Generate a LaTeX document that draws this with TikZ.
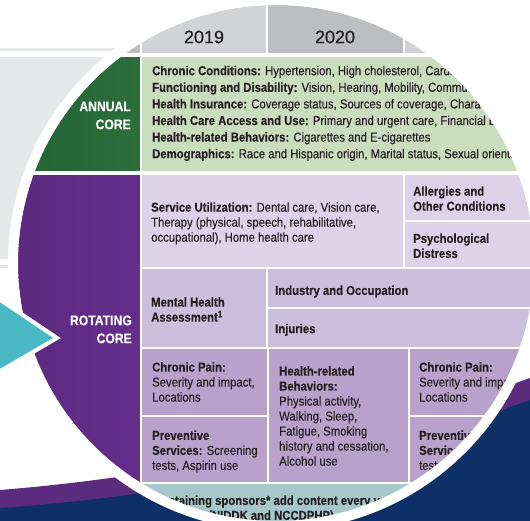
\documentclass[tikz,border=0pt]{standalone}
\usepackage{fontspec}
\setmainfont{Liberation Sans}[FakeStretch=0.87, FakeBold=0.15]
\newfontfamily\yearfont{Liberation Sans}[FakeBold=0.5]
\usepackage{xcolor}
\usepackage{tikz}

\definecolor{txt}{HTML}{231F20}
\definecolor{bggrey}{HTML}{E6E7E8}
\definecolor{hdlight}{HTML}{D1D3D4}
\definecolor{hddark}{HTML}{BCBEC0}
\definecolor{coregreen}{HTML}{2B6E3C}
\definecolor{coregreenD}{HTML}{235F31}
\definecolor{annualbg}{HTML}{CADDBE}
\definecolor{corepurple}{HTML}{662D8C}
\definecolor{corepurpleD}{HTML}{58297C}
\definecolor{rowone}{HTML}{DDD3E8}
\definecolor{rowtwo}{HTML}{CEBEDD}
\definecolor{rowthree}{HTML}{B8A1CB}
\definecolor{sponsorbg}{HTML}{A6C8CB}
\definecolor{arrowteal}{HTML}{4BB8C6}
\definecolor{swooshpurple}{HTML}{5B2C7E}
\definecolor{swooshnavy}{HTML}{0E3066}

\tikzset{
  cell/.style={draw=white, line width=2pt},
  body/.style={anchor=north west, inner sep=0pt, align=left, text=txt,
    font=\fontsize{13}{15}\selectfont},
  bodybold/.style={body, font=\fontsize{13}{15}\selectfont\bfseries},
  corelabel/.style={anchor=north east, inner sep=0pt, align=right, text=white,
    font=\fontsize{14}{18}\selectfont\bfseries},
  year/.style={inner sep=0pt, text=txt, font=\yearfont\fontsize{18}{18}\selectfont},
}
\newcommand{\fst}{\rule{0pt}{11pt}}

\begin{document}
\begin{tikzpicture}[x=1pt, y=-1pt]
  \useasboundingbox (0,0) rectangle (530,521);

  % page behind the lens
  \fill[bggrey] (0,48) rectangle (300,51);
  \fill[bggrey] (0,57) rectangle (300,259);
  \fill[bggrey] (0,265) rectangle (300,268);
  \fill[swooshpurple] (0,490) .. controls (200,474) and (400,425) .. (530,378) -- (530,521) -- (0,521) -- cycle;
  \fill[swooshnavy] (0,508) .. controls (200,494) and (400,448) .. (530,400) -- (530,521) -- (0,521) -- cycle;

  % the lens
  \coordinate (lens) at (276,263);
  \begin{scope}
    \clip (lens) circle (258);
    \fill[white] (lens) circle (258);

    % year header
    \draw[cell, fill=hddark] (-20,-20) rectangle (141,54);
    \draw[cell, fill=hdlight] (141,-20) rectangle (267,54);
    \draw[cell, fill=hddark] (267,-20) rectangle (404,54);
    \draw[cell, fill=hdlight] (404,-20) rectangle (560,54);
    \node[year] (y2019) at (204,37) {2019};
    \node[year] (y2020) at (335,37) {2020};

    % annual core
    \draw[cell, left color=coregreenD, right color=coregreen] (-20,56) rectangle (141,172.5);
    \draw[cell, fill=annualbg] (141,56) rectangle (560,172.5);
    \node[corelabel] (annual) at (131,100) {\fst ANNUAL\\CORE};
    \node[body, font=\fontsize{13}{16.6}\selectfont] (annualtext) at (152,64) {\fst\textbf{Chronic Conditions:} Hypertension, High cholesterol, Cardiovascular\\
      \textbf{Functioning and Disability:} Vision, Hearing, Mobility, Communication\\
      \textbf{Health Insurance:} Coverage status, Sources of coverage, Characteristics\\
      \textbf{Health Care Access and Use:} Primary and urgent care, Financial barriers\\
      \textbf{Health-related Behaviors:} Cigarettes and E-cigarettes\\
      \textbf{Demographics:} Race and Hispanic origin, Marital status, Sexual orientation};

    % rotating core
    \draw[cell, left color=corepurpleD, right color=corepurple] (-20,174.5) rectangle (141,600);
    \node[corelabel] (rotating) at (132,314) {\fst ROTATING\\CORE};

    \draw[cell, fill=rowone] (141,174.5) rectangle (404,268.5);
    \draw[cell, fill=rowone] (404,174.5) rectangle (560,221);
    \draw[cell, fill=rowone] (404,221) rectangle (560,268.5);
    \node[body] (service) at (151,200.5) {\fst\textbf{Service Utilization:} Dental care, Vision care,\\Therapy (physical, speech, rehabilitative,\\occupational), Home health care};
    \node[bodybold] (allergies) at (413,184.5) {\fst Allergies and\\Other Conditions};
    \node[bodybold] (distress) at (413,231.7) {\fst Psychological\\Distress};

    \draw[cell, fill=rowtwo] (141,268.5) rectangle (267,348);
    \draw[cell, fill=rowtwo] (267,268.5) rectangle (560,308);
    \draw[cell, fill=rowtwo] (267,308) rectangle (560,348);
    \node[bodybold] (mental) at (151,295.4) {\fst Mental Health\\Assessment\textsuperscript{1}};
    \node[bodybold] (industry) at (275,283.7) {\fst Industry and Occupation};
    \node[bodybold] (injuries) at (275,322) {\fst Injuries};

    \draw[cell, fill=rowthree] (141,348) rectangle (268,416);
    \draw[cell, fill=rowthree] (141,416) rectangle (268,482.5);
    \draw[cell, fill=rowthree] (268,348) rectangle (409,482.5);
    \draw[cell, fill=rowthree] (409,348) rectangle (560,416);
    \draw[cell, fill=rowthree] (409,416) rectangle (560,482.5);
    \node[body] (painA) at (152,360.4) {\fst\textbf{Chronic Pain:}\\Severity and impact,\\Locations};
    \node[body] (prevA) at (152,428.7) {\fst\textbf{Preventive}\\\textbf{Services:} Screening\\tests, Aspirin use};
    \node[body] (behave) at (279,364.4) {\fst\textbf{Health-related}\\\textbf{Behaviors:}\\Physical activity,\\Walking, Sleep,\\Fatigue, Smoking\\history and cessation,\\Alcohol use};
    \node[body] (painB) at (419,360.4) {\fst\textbf{Chronic Pain:}\\Severity and impact,\\Locations};
    \node[body] (prevB) at (419,428.7) {\fst\textbf{Preventive}\\\textbf{Services:} Screening\\tests, Aspirin use};

    % sponsors row
    \draw[cell, fill=sponsorbg] (141,482.5) rectangle (560,600);
    \node[bodybold] (sponsors) at (154,493.7) {\fst Sustaining sponsors* add content every year};
    \node[bodybold] (sponsorsB) at (208,508.7) {\fst (NIDDK and NCCDPHP)};
  \end{scope}
  \draw[white, line width=10pt] (lens) circle (263);

  % pointer to the rotating core
  \draw[white, line width=4pt, line join=miter, fill=arrowteal] (-10,293) -- (57,338) -- (-10,377) -- cycle;
\end{tikzpicture}
\end{document}
